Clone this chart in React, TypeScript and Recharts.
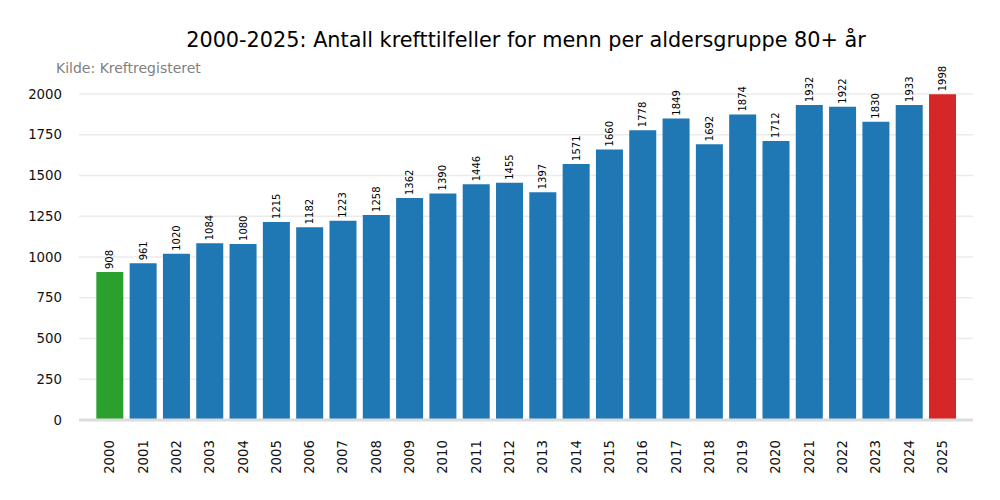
import React from 'react';
import { BarChart, Bar, XAxis, YAxis, CartesianGrid, Cell, LabelList } from 'recharts';

// Kilde: Kreftregisteret, menn 80+ år
const years = ['2000', '2001', '2002', '2003', '2004', '2005', '2006', '2007', '2008', '2009', '2010', '2011', '2012',
  '2013', '2014', '2015', '2016', '2017', '2018', '2019', '2020', '2021', '2022', '2023', '2024', '2025'];
const cases = [908, 961, 1020, 1084, 1080, 1215, 1182, 1223, 1258, 1362, 1390, 1446, 1455,
  1397, 1571, 1660, 1778, 1849, 1692, 1874, 1712, 1932, 1922, 1830, 1933, 1998];
const yTicks = [0, 250, 500, 750, 1000, 1250, 1500, 1750, 2000];

const FONT = '"DejaVu Sans", sans-serif';

const barColor = (i: number) => {
  if (i === 0) return '#2ca02c';
  if (i === years.length - 1) return '#d62728';
  return '#1f77b4';
};

// rotated year labels under the axis
const YearTick = (props: any) => {
  const { x, y, payload } = props;
  const ty = y + 12;
  return (
    <text
      x={x}
      y={ty}
      transform={`rotate(-90, ${x}, ${ty})`}
      textAnchor="end"
      dy="0.35em"
      fontSize={13.3}
      fontFamily={FONT}
      fill="#111"
    >
      {payload.value}
    </text>
  );
};

const ValueLabel = (props: any) => {
  const { x, y, width, value } = props;
  const cx = x + width / 2;
  const cy = y - 3;
  return (
    <text
      x={cx}
      y={cy}
      transform={`rotate(-90, ${cx}, ${cy})`}
      textAnchor="start"
      dy="0.35em"
      fontSize={10}
      fontFamily={FONT}
      fill="#000"
    >
      {value}
    </text>
  );
};

export default function App() {
  const data = years.map((year, i) => ({ year, value: cases[i] }));

  return (
    <div style={{ position: 'absolute', left: 0, top: 0, width: 1000, height: 500, background: '#fff' }}>
      <BarChart
        width={1000}
        height={500}
        data={data}
        margin={{ top: 94, right: 27, bottom: 0, left: 0 }}
      >
        <CartesianGrid vertical={false} stroke="#ebebeb" strokeWidth={1.5} />
        <XAxis
          dataKey="year"
          interval={0}
          padding={{ left: 14, right: 14 }}
          axisLine={{ stroke: '#dcdcdc', strokeWidth: 3 }}
          tickLine={false}
          tick={<YearTick />}
          height={80}
        />
        <YAxis
          domain={[0, 2000]}
          ticks={yTicks}
          width={79}
          axisLine={false}
          tickLine={false}
          tickSize={0}
          tickMargin={17}
          tick={{ fontSize: 13.3, fontFamily: FONT, fill: '#111' }}
        />
        <Bar dataKey="value" barCategoryGap="10%" isAnimationActive={false}>
          {data.map((d, i) => (
            <Cell key={d.year} fill={barColor(i)} />
          ))}
          <LabelList dataKey="value" content={<ValueLabel />} />
        </Bar>
      </BarChart>
      <svg width={1000} height={500} style={{ position: 'absolute', left: 0, top: 0, pointerEvents: 'none' }}>
        <text x={526} y={47} textAnchor="middle" fontSize={20.8} fontFamily={FONT} fill="#000">
          2000-2025: Antall krefttilfeller for menn per aldersgruppe 80+ år
        </text>
        <text x={56} y={73} fontSize={14} fontFamily={FONT} fill="#808080">
          Kilde: Kreftregisteret
        </text>
      </svg>
    </div>
  );
}
